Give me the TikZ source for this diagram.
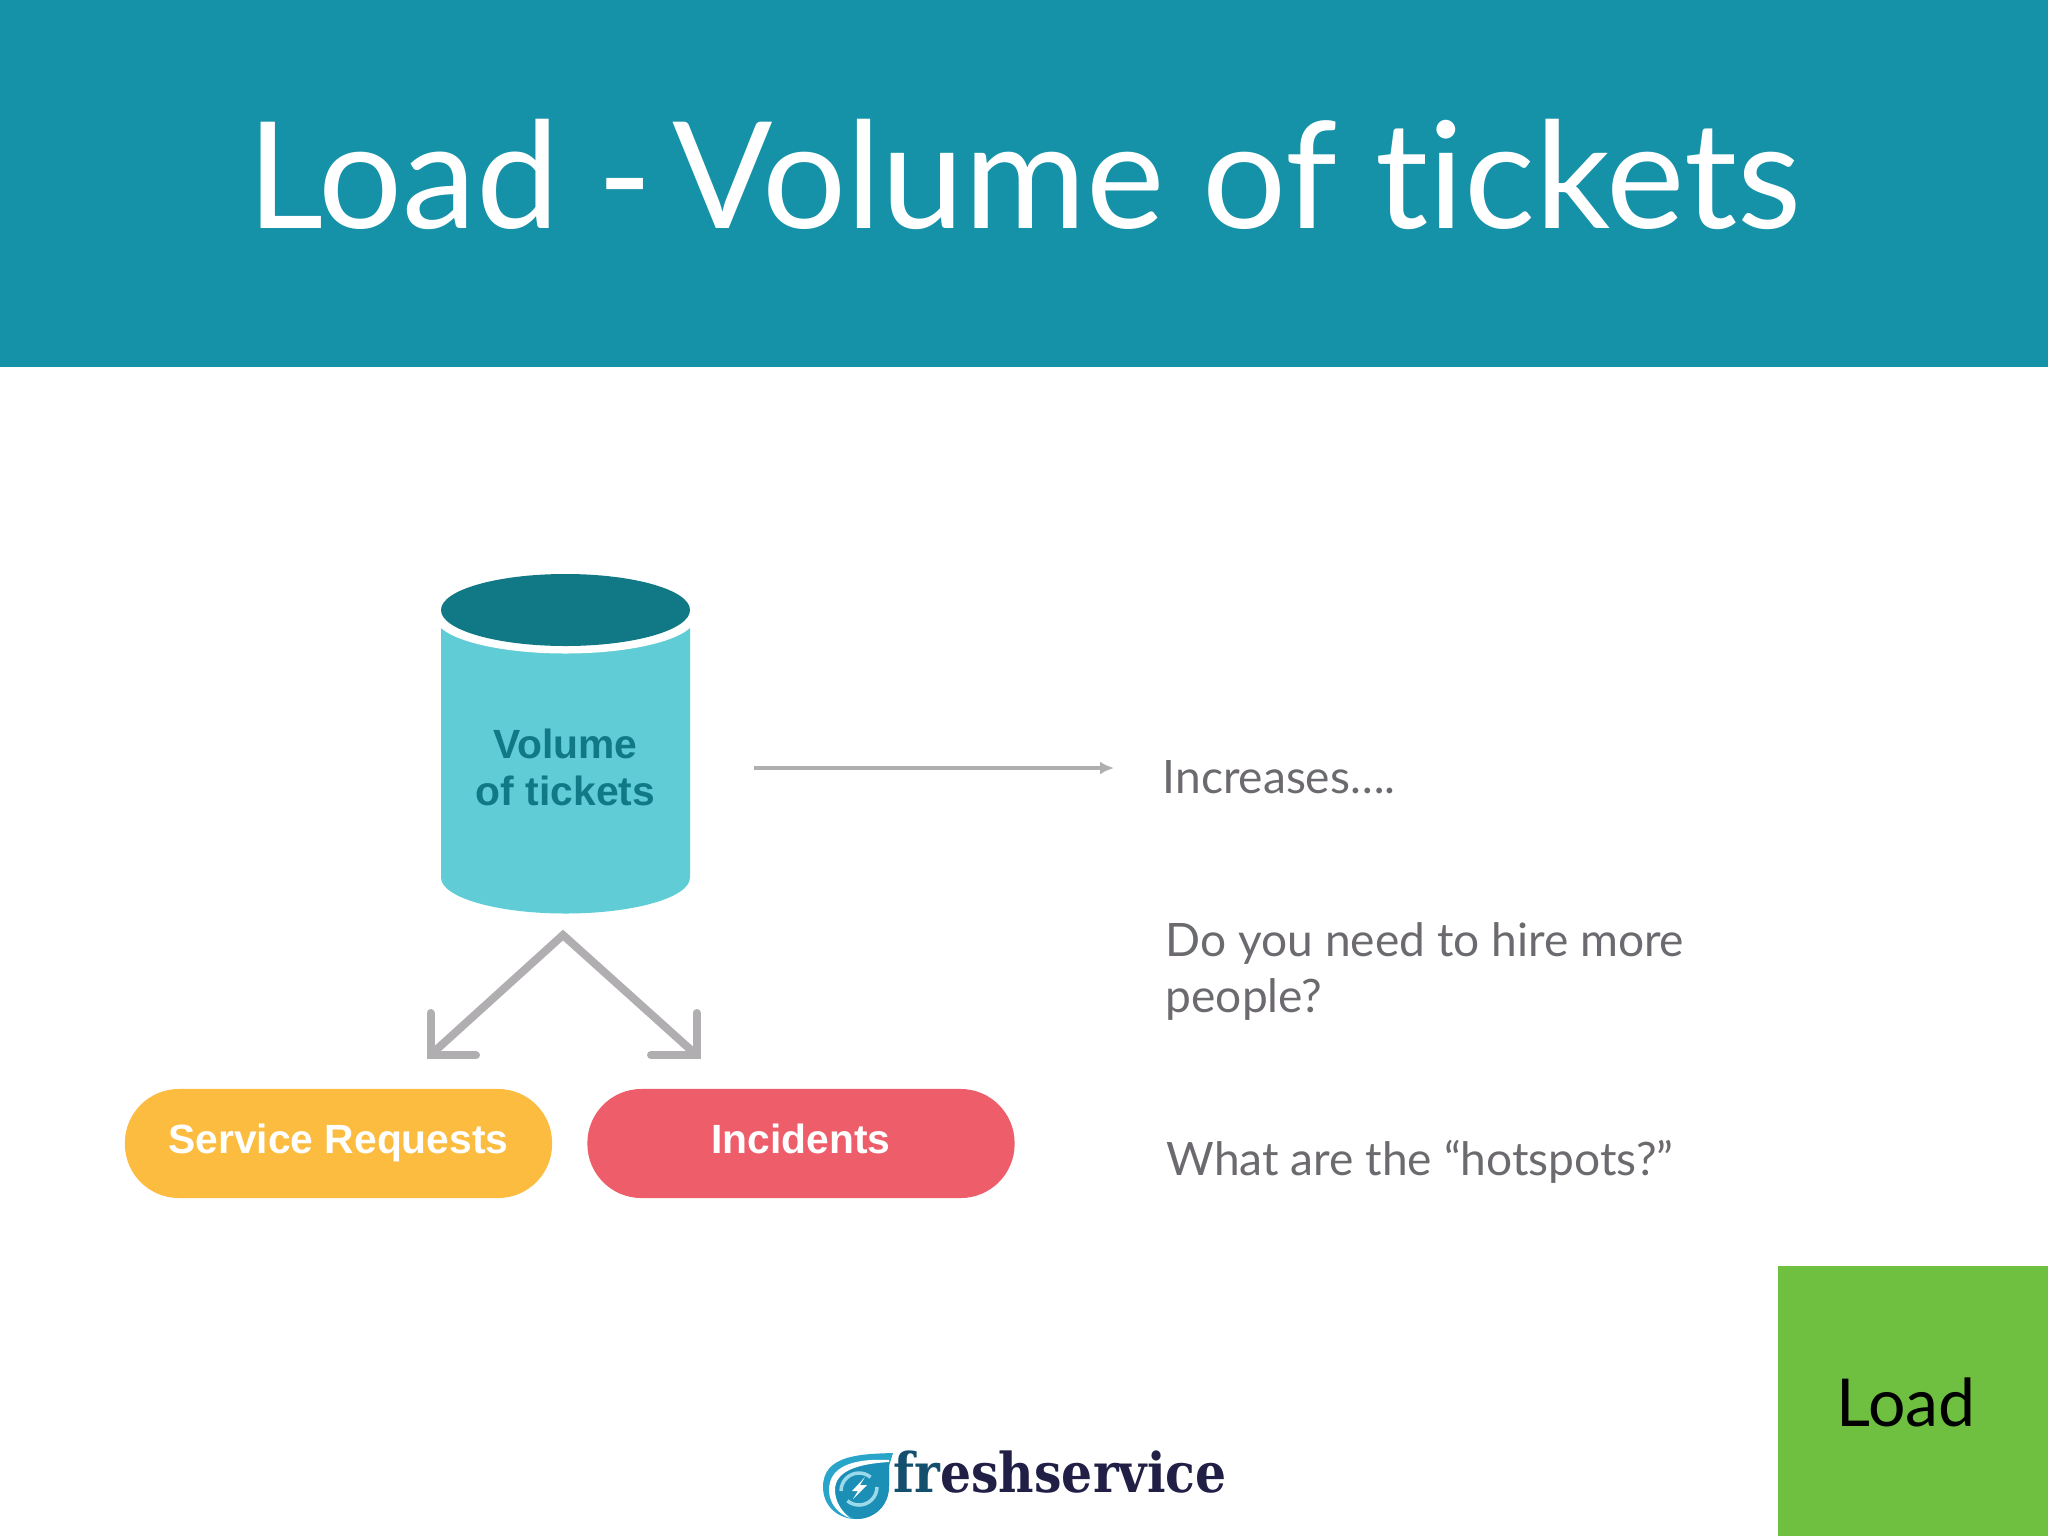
\documentclass[tikz,border=0pt]{standalone}
\usepackage{fontspec}
\setsansfont{Liberation Sans}
\newfontfamily\gillfont[Ligatures=NoCommon]{Lato}
\newfontfamily\logofont[FakeStretch=0.89]{DejaVu Serif}
\usepackage{tikz}
\usetikzlibrary{arrows.meta}

\definecolor{headerteal}{HTML}{1592A8}
\definecolor{cyltop}{HTML}{117986}
\definecolor{cylbody}{HTML}{5FCCD6}
\definecolor{arrowgrey}{HTML}{B0AEB1}
\definecolor{noteGrey}{HTML}{6D6A6F}
\definecolor{pillyellow}{HTML}{FBBC40}
\definecolor{pillred}{HTML}{EE5D6A}
\definecolor{loadgreen}{HTML}{6FBF40}
\definecolor{logonavy}{HTML}{221F47}
\definecolor{logoteal}{HTML}{14506E}
\definecolor{logoblue}{HTML}{2AA5CA}
\definecolor{logodeep}{HTML}{1B8FB6}
\definecolor{logolight}{HTML}{9BDAEA}

\tikzset{
  pill/.style={rounded corners=0.54cm, minimum width=4.27cm, minimum height=1.09cm,
    inner sep=0pt, text=white, text height=0.29cm, text depth=0.10cm,
    font=\sffamily\bfseries\fontsize{11.6pt}{14pt}\selectfont},
  note/.style={anchor=base west, inner sep=0pt, text=noteGrey,
    font=\gillfont\fontsize{13.1pt}{16pt}\selectfont},
  fork/.style={draw=arrowgrey, line width=0.08cm},
  refresh/.style={draw=logolight, line width=0.035cm},
}

\begin{document}
\begin{tikzpicture}[x=0.01cm, y=-0.01cm, >=stealth]

\useasboundingbox (0,0) rectangle (2048,1536);
\fill [white] (0,0) rectangle (2048,1536);

\fill [headerteal] (0,0) rectangle (2048,367);
\node [anchor=base west, inner sep=0pt, text=white, font=\gillfont\fontsize{42.2pt}{50pt}\selectfont]
  (title) at (247,228) {Load -\kern-0.12em\ Volume of tickets};

% cylinder
\fill [cylbody] (441,610) -- (441,877.5) arc [x radius=124.5, y radius=36, start angle=180, end angle=0, ] -- (690,610) -- cycle;
\fill [white] (565.5,617.5) ellipse [x radius=130, y radius=36];
\fill [white] (432,600) rectangle (700,618);
\fill [cyltop] (565.5,610) ellipse [x radius=124.5, y radius=36];
\node [align=center, inner sep=0pt, text=cyltop, font=\sffamily\bfseries\fontsize{11.6pt}{13.4pt}\selectfont]
  (volume) at (565.5,767) {Volume\\of tickets};

\coordinate (trend-start) at (754,768);
\coordinate (trend-end) at (1114,768);
\draw [draw=arrowgrey, line width=0.045cm, -{Latex[length=0.14cm, width=0.13cm]}] (trend-start) -- (trend-end);

\coordinate (fork-top) at (563,935);
\coordinate (fork-left) at (430.5,1055);
\coordinate (fork-right) at (696.5,1055);
\draw [fork] (fork-left) -- (fork-top) -- (fork-right);
\draw [fork, line cap=round] (430.5,1013) |- (476,1055);
\draw [fork, line cap=round] (696.5,1013) |- (651,1055);

\foreach \m/\c/\x in {Service Requests/pillyellow/338.5, Incidents/pillred/801}
  \node [pill, fill=\c] (pill-\c) at (\x,1143.5) {\m};

\foreach \l/\x/\y [count=\i] in {Increases….{}/1162/793, Do you need to hire more/1165/956, people?/1165/1012, What are the “hotspots?”/1166/1175}
  \node [note] (note-\i) at (\x,\y) {\l};

\fill [loadgreen] (1778,1265.5) rectangle (2048,1536);
\node [anchor=base west, inner sep=0pt, font=\gillfont\fontsize{18.8pt}{22pt}\selectfont]
  (load) at (1836,1426) {Load};

% logo
\fill [logoblue] (893,1453) .. controls (860,1454) and (823,1455) .. (823,1487)
  .. controls (823,1506) and (838,1519) .. (856,1519)
  .. controls (875,1519) and (889,1505) .. (889,1486) -- (889,1466) -- cycle;
\fill [logodeep] (889,1462) .. controls (860,1463) and (835,1470) .. (835,1490)
  .. controls (835,1505) and (845,1515) .. (856,1519)
  .. controls (875,1519) and (889,1505) .. (889,1486) -- cycle;
\fill [white] (889,1460) .. controls (850,1458) and (829,1468) .. (829,1490)
  .. controls (829,1503) and (838,1514) .. (850,1518)
  .. controls (840,1510) and (835,1500) .. (835,1490)
  .. controls (835,1472) and (855,1464) .. (889,1462) -- cycle;
\draw [refresh] (841,1491) arc [radius=18, start angle=180, end angle=310];
\draw [refresh] (877,1487) arc [radius=18, start angle=0, end angle=130];
\fill [white] (865,1477) -- (852,1491) -- (858,1491) -- (853,1499) -- (867,1485) -- (860,1485) -- cycle;
\node [anchor=base west, inner sep=0pt, text=logonavy, font=\logofont\bfseries\fontsize{15.6pt}{18pt}\selectfont]
  (logo) at (893,1492) {\textcolor{logoteal}{fr}eshservice};

\end{tikzpicture}
\end{document}
